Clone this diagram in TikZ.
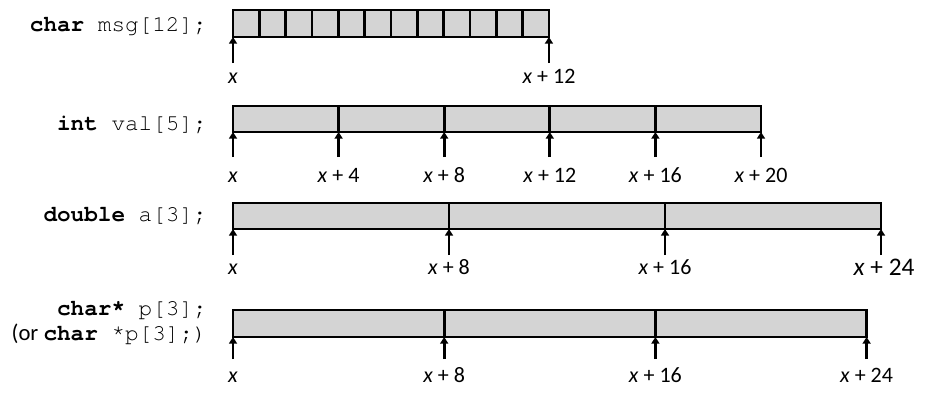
\documentclass[tikz,border=0pt]{standalone}
\usepackage{fontspec}
\setmainfont{Carlito}
\setmonofont{TeX Gyre Cursor}
\usetikzlibrary{arrows.meta}
\definecolor{cellgray}{HTML}{D4D4D4}
\tikzset{
  % one array element: grey cell with a heavy black border
  cell/.style = {draw=black, fill=cellgray, line width=2pt},
  ptr/.style  = {-{Triangle[length=5pt,width=6pt]}, line width=2pt},
  decl/.style = {anchor=base east, inner sep=0pt, font=\fontsize{17}{20}\selectfont\ttfamily},
  addr/.style = {anchor=base, inner sep=0pt, font=\fontsize{16.5}{20}\selectfont},
  bigaddr/.style = {addr, font=\fontsize{19}{22}\selectfont},
}
\newcommand{\kw}[1]{\textbf{#1}}

\begin{document}
\begin{tikzpicture}[x=0.75pt,y=-0.75pt]
\useasboundingbox (0,0) rectangle (937,407);
% --- char msg[12]: one byte per cell ------------------------------------
\node[decl] (msg) at (207,31) {\kw{char} msg[12];};
\foreach \i in {0,...,11}
  \draw[cell] ({233+26.33*\i},10) rectangle ++(26.33,27);
\foreach \k/\t in {0/\textit{x}, 12/\textit{x} + 12} {
  \coordinate (msgtop\k) at ({233+26.33*\k},37);
  \coordinate (msgfoot\k) at ({233+26.33*\k},63);
  \draw[ptr] (msgfoot\k) -- (msgtop\k);
  \node[addr] (msgaddr\k) at ({233+26.33*\k},83) {\t};
}
% --- int val[5]: four bytes per cell ------------------------------------
\node[decl] (val) at (207,130) {\kw{int} val[5];};
\foreach \i in {0,...,4}
  \draw[cell] ({233+105.6*\i},106) rectangle ++(105.6,26);
\foreach \k/\t in {0/\textit{x}, 4/\textit{x} + 4, 8/\textit{x} + 8,
                   12/\textit{x} + 12, 16/\textit{x} + 16, 20/\textit{x} + 20} {
  \coordinate (valtop\k) at ({233+26.4*\k},132);
  \coordinate (valfoot\k) at ({233+26.4*\k},157);
  \draw[ptr] (valfoot\k) -- (valtop\k);
  \node[addr] (valaddr\k) at ({233+26.4*\k},182) {\t};
}
% --- double a[3]: eight bytes per cell ----------------------------------
\node[decl] (dbl) at (207,221) {\kw{double} a[3];};
\foreach \i in {0,...,2}
  \draw[cell] ({233+216*\i},203) rectangle ++(216,26);
\foreach \k/\t in {0/\textit{x}, 8/\textit{x} + 8, 16/\textit{x} + 16} {
  \coordinate (dbltop\k) at ({233+27*\k},229);
  \coordinate (dblfoot\k) at ({233+27*\k},255);
  \draw[ptr] (dblfoot\k) -- (dbltop\k);
  \node[addr] (dbladdr\k) at ({233+27*\k},274) {\t};
}
\coordinate (dbltop24) at (881,229);
\coordinate (dblfoot24) at (881,255);
\draw[ptr] (dblfoot24) -- (dbltop24);
\node[bigaddr] (dbladdr24) at (884,275) {\textit{x} + 24};
% --- char* p[3]: eight-byte pointers ------------------------------------
\node[decl] (ptrs) at (207,315) {\kw{char*} p[3];};
\node[decl] (ptrsalt) at (207,340) {\rmfamily(or \ttfamily\kw{char} *p[3];)};
\foreach \i in {0,...,2}
  \draw[cell] ({233+211.2*\i},310) rectangle ++(211.2,27);
\foreach \k/\t in {0/\textit{x}, 8/\textit{x} + 8, 16/\textit{x} + 16, 24/\textit{x} + 24} {
  \coordinate (ptrstop\k) at ({233+26.4*\k},337);
  \coordinate (ptrsfoot\k) at ({233+26.4*\k},359);
  \draw[ptr] (ptrsfoot\k) -- (ptrstop\k);
  \node[addr] (ptrsaddr\k) at ({233+26.4*\k},382) {\t};
}
\end{tikzpicture}
\end{document}
